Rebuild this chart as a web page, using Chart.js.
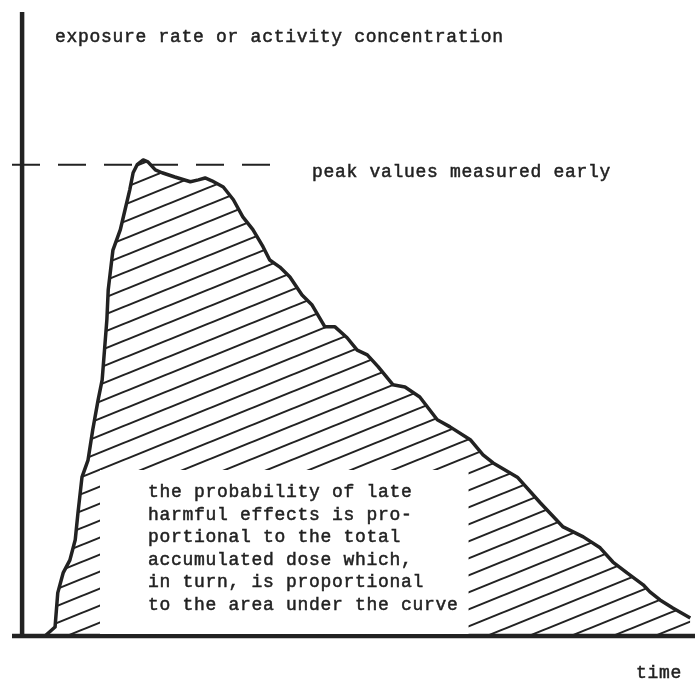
<!DOCTYPE html>
<html>
<head>
<meta charset="utf-8">
<script src="https://cdn.jsdelivr.net/npm/chart.js@4.4.1/dist/chart.umd.min.js"></script>
<style>
  html, body { margin: 0; padding: 0; background: #fff; }
  canvas { display: block; }
</style>
</head>
<body>
<canvas id="c" width="695" height="682"></canvas>
<script>
// ---- data (arbitrary units: time 0..100, level with peak ≈ 100) ----
const timeValues = [3.4, 4.9, 5.3, 6.1, 7.1, 7.9, 8.3, 8.9, 9.8, 10.5, 11.3, 11.9, 12.6, 12.8, 13.5, 14.6, 15.3, 16.0, 16.5, 17.1, 18.0, 18.7, 19.8, 20.8, 22.7, 25.0, 26.2, 27.2, 28.2, 29.9, 31.4, 32.8, 34.3, 35.8, 36.8, 38.3, 39.8, 41.6, 43.1, 45.0, 46.5, 48.3, 49.8, 51.3, 52.9, 55.1, 56.9, 59.1, 61.7, 63.6, 66.6, 68.5, 70.0, 73.6, 77.0, 80.4, 83.4, 85.9, 87.8, 89.9, 92.3, 93.3, 94.8, 96.7, 99.3];
const levelValues = [0, 1.9, 9.1, 13.3, 16.0, 20.3, 25.9, 33.5, 37.1, 43.5, 49.8, 54.0, 66.7, 73.0, 81.4, 85.7, 89.9, 94.1, 97.7, 99.4, 100.4, 100.0, 98.3, 97.7, 96.8, 95.8, 96.2, 96.6, 96.0, 94.7, 92.0, 88.4, 85.7, 82.1, 79.3, 77.8, 75.7, 71.9, 69.8, 65.2, 65.2, 62.9, 60.3, 59.3, 56.8, 53.0, 52.5, 50.4, 45.6, 44.1, 41.4, 38.2, 36.5, 33.5, 28.1, 23.0, 20.9, 18.6, 15.6, 13.3, 10.8, 9.3, 7.6, 5.9, 3.8];
const peakLevel = 99.4;
const peakLineTime = [-1.5, 37];
const timeRange = [-1.5, 100];
const levelRange = [0, 131.6];

const yAxisTitle = 'exposure rate or activity concentration';
const xAxisTitle = 'time';
const peakNote = 'peak values measured early';
const noteLines = [
  'the probability of late',
  'harmful effects is pro-',
  'portional to the total',
  'accumulated dose which,',
  'in turn, is proportional',
  'to the area under the curve'
];

// ---- hatch pattern ----
const INK = '#222';
function makeHatch() {
  const w = 42, h = 17;
  const pc = document.createElement('canvas');
  pc.width = w; pc.height = h;
  const p = pc.getContext('2d');
  p.strokeStyle = INK;
  p.lineWidth = 2;
  p.lineCap = 'butt';
  const k = h / w;
  for (const off of [-h, 0, h]) {
    p.beginPath();
    p.moveTo(-4, h + off + 4 * k);
    p.lineTo(w + 4, off - 4 * k);
    p.stroke();
  }
  return document.getElementById('c').getContext('2d').createPattern(pc, 'repeat');
}

const curve = timeValues.map((t, i) => ({ x: t, y: levelValues[i] }));
const peakLine = peakLineTime.map(t => ({ x: t, y: peakLevel }));
const yAxisLine = [{ x: 0, y: levelRange[0] }, { x: 0, y: levelRange[1] }];
const xAxisLine = [{ x: timeRange[0], y: 0 }, { x: timeRange[1], y: 0 }];

const FONT = '18px "Liberation Mono", "Courier New", monospace';

function drawText(ctx, s, x, y) {
  ctx.fillText(s, x, y);
  ctx.strokeText(s, x, y);
}

const textPlugin = {
  id: 'texts',
  afterDatasetsDraw(chart) {
    const ctx = chart.ctx;
    const xs = chart.scales.x, ys = chart.scales.y;
    ctx.save();
    ctx.font = FONT;
    ctx.letterSpacing = '0.7px';
    ctx.textBaseline = 'alphabetic';
    ctx.textAlign = 'left';

    // note block white backing (drawn first, over the hatch)
    const left = 148, firstBase = 497, lh = 22.6;
    let maxW = 0;
    noteLines.forEach(l => { maxW = Math.max(maxW, ctx.measureText(l).width); });
    const boxTop = firstBase - 27;
    ctx.fillStyle = '#fff';
    ctx.fillRect(left - 48, boxTop, maxW + 48 + 10, ys.getPixelForValue(0) - 2 - boxTop);

    ctx.fillStyle = INK;
    ctx.strokeStyle = INK;
    ctx.lineWidth = 0.5;
    drawText(ctx, yAxisTitle, xs.getPixelForValue(0) + 33, 42);
    drawText(ctx, peakNote, 312, ys.getPixelForValue(peakLevel) + 12);
    drawText(ctx, xAxisTitle, 636, 678);
    noteLines.forEach((l, i) => drawText(ctx, l, left, firstBase + i * lh));
    ctx.restore();
  }
};

new Chart(document.getElementById('c'), {
  type: 'scatter',
  data: {
    datasets: [
      {
        data: curve, showLine: true, fill: 'origin',
        backgroundColor: makeHatch(), borderColor: INK, borderWidth: 3.5,
        pointRadius: 0, tension: 0, borderJoinStyle: 'round', order: 1
      },
      {
        data: peakLine, showLine: true, fill: false, borderColor: INK,
        borderWidth: 2, borderDash: [28, 18], pointRadius: 0, order: 2
      },
      {
        data: yAxisLine, showLine: true, fill: false, borderColor: INK,
        borderWidth: 4.5, pointRadius: 0, order: 3
      },
      {
        data: xAxisLine, showLine: true, fill: false, borderColor: INK,
        borderWidth: 4.5, pointRadius: 0, order: 3
      }
    ]
  },
  options: {
    responsive: false,
    animation: false,
    devicePixelRatio: 1,
    layout: { padding: { left: 12, right: 0, top: 12, bottom: 46 } },
    plugins: { legend: { display: false }, tooltip: { enabled: false } },
    scales: {
      x: { type: 'linear', min: timeRange[0], max: timeRange[1], display: false },
      y: { type: 'linear', min: levelRange[0], max: levelRange[1], display: false }
    },
    clip: false
  },
  plugins: [textPlugin]
});
</script>
</body>
</html>
